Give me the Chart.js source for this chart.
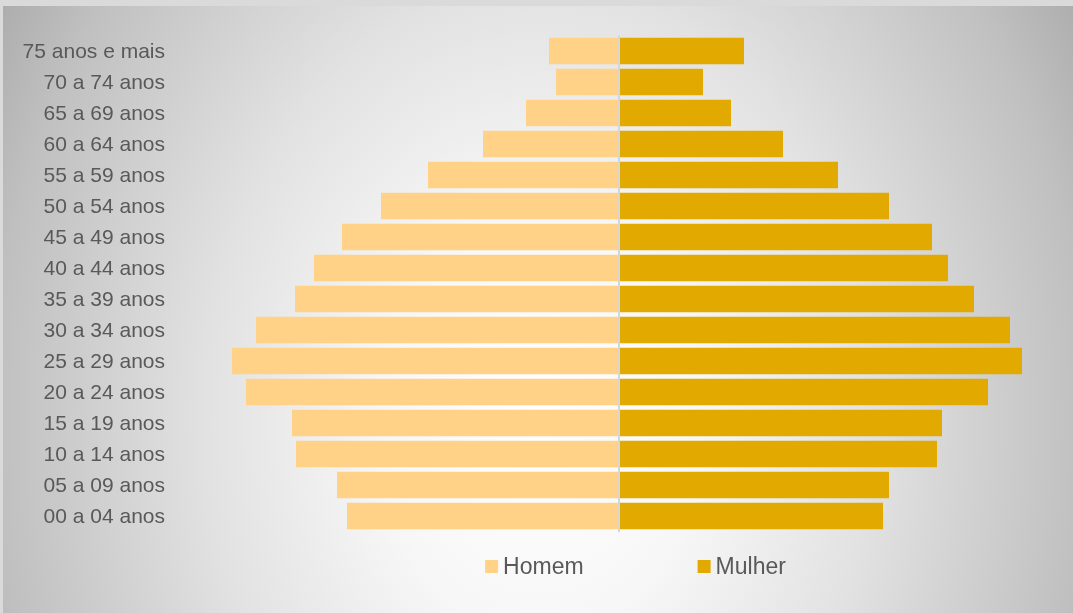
<!DOCTYPE html>
<html>
<head>
<meta charset="utf-8">
<script src="https://cdn.jsdelivr.net/npm/chart.js@4.4.1/dist/chart.umd.min.js"></script>
<style>
  html, body { margin: 0; padding: 0; width: 1073px; height: 613px; overflow: hidden; background: #dadada; }
  #bg { position: absolute; left: 3px; top: 6px; width: 1070px; height: 607px;
        background: radial-gradient(ellipse 640px 832px at 537px 414px, #ffffff 0%, #f7f7f7 25%, #e2e2e2 52%, #c0c0c0 85%, #aaaaaa 100%); }
  #wrap { position: absolute; left: 0; top: 0; width: 1073px; height: 613px; }
</style>
</head>
<body>
<div id="bg"></div>
<div id="wrap"><canvas id="c" width="1073" height="613"></canvas></div>
<script>
const categories = ["75 anos e mais","70 a 74 anos","65 a 69 anos","60 a 64 anos","55 a 59 anos","50 a 54 anos","45 a 49 anos","40 a 44 anos","35 a 39 anos","30 a 34 anos","25 a 29 anos","20 a 24 anos","15 a 19 anos","10 a 14 anos","05 a 09 anos","00 a 04 anos"];
const homem = [70, 63, 93, 136, 191, 238, 277, 305, 324, 363, 387, 373, 327, 323, 282, 272];
const mulher = [125, 84, 112, 164, 219, 270, 313, 329, 355, 391, 403, 369, 323, 318, 270, 264];
const seriesNames = ["Homem", "Mulher"];
const seriesColors = ["#FFD287", "#E2AA00"];

const customLegend = {
  id: 'customLegend',
  afterDraw(chart) {
    const ctx = chart.ctx;
    ctx.save();
    ctx.font = '23px "Liberation Sans", Arial, sans-serif';
    ctx.textBaseline = 'middle';
    ctx.textAlign = 'left';
    const box = 13, gapText = 5, gapItems = 114;
    const widths = seriesNames.map(n => box + gapText + ctx.measureText(n).width);
    const total = widths.reduce((a, b) => a + b, 0) + gapItems * (widths.length - 1);
    let x = 635.5 - total / 2;
    const cy = 568;
    seriesNames.forEach((n, i) => {
      ctx.fillStyle = seriesColors[i];
      ctx.fillRect(x, cy - box / 2 - 1.5, box, box);
      ctx.fillStyle = '#595959';
      ctx.fillText(n, x + box + gapText, cy);
      x += widths[i] + gapItems;
    });
    ctx.restore();
  }
};

new Chart(document.getElementById('c'), {
  type: 'bar',
  data: {
    labels: categories,
    datasets: [
      { label: seriesNames[0], data: homem.map(v => -v), backgroundColor: seriesColors[0], borderWidth: 0,
        categoryPercentage: 0.855, barPercentage: 1.0 },
      { label: seriesNames[1], data: mulher, backgroundColor: seriesColors[1], borderWidth: 0,
        categoryPercentage: 0.855, barPercentage: 1.0 }
    ]
  },
  options: {
    indexAxis: 'y',
    responsive: false,
    animation: false,
    devicePixelRatio: 1,
    layout: { padding: { top: 35.5, bottom: 81.5, left: 0, right: 33 } },
    plugins: { legend: { display: false }, tooltip: { enabled: false } },
    scales: {
      x: {
        stacked: true, min: -439, max: 421, z: 1,
        ticks: { display: false },
        border: { display: false },
        grid: { drawTicks: false, lineWidth: 2,
                color: c => (c.tick && c.tick.value === 0) ? '#d6d6d6' : 'rgba(0,0,0,0)' },
        afterBuildTicks: s => { s.ticks = [{ value: 0 }]; }
      },
      y: {
        stacked: true,
        afterFit: s => { s.width = 180; },
        grid: { display: false, drawTicks: false },
        border: { display: false },
        ticks: { padding: 15, labelOffset: 1.5, color: '#595959', font: { family: '"Liberation Sans", Arial, sans-serif', size: 21 } }
      }
    }
  },
  plugins: [customLegend]
});
</script>
</body>
</html>
